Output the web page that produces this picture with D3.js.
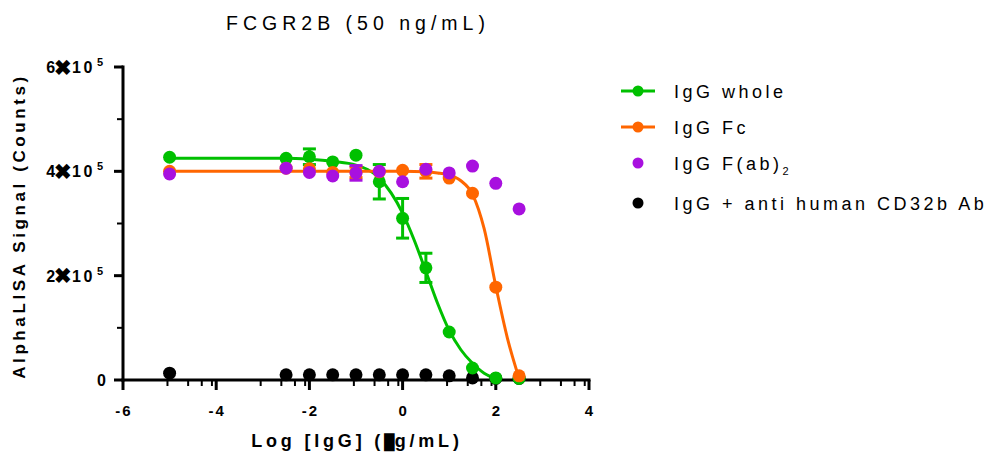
<!DOCTYPE html>
<html lang="en">
<head>
<meta charset="UTF-8">
<title>FCGR2B (50 ng/mL)</title>
<style>
  * { margin: 0; padding: 0; }
  html, body { overflow: hidden; background: #fff; }
  text { font-family: "Liberation Sans", Arial, sans-serif; }
</style>
</head>
<body>
<div id="chart"></div>
<script src="https://cdn.jsdelivr.net/npm/d3@7"></script>
<script>
// log concentration (µg/mL)
const logConc = [-5, -2.5, -2, -1.5, -1, -0.5, 0, 0.5, 1, 1.5, 2, 2.5]

// signal values in units of 1e5 counts
const wholeVals = [4.27, 4.25, 4.28, 4.18, 4.31, 3.80, 3.10, 2.15, 0.92, 0.23, 0.04, 0.03]
const wholeErr  = [0, 0, 0.15, 0, 0, 0.33, 0.38, 0.28, 0, 0, 0, 0]
const fcVals    = [4.00, 4.06, 4.05, 3.98, 3.98, 3.99, 4.02, 4.00, 3.87, 3.58, 1.78, 0.08]
const fcErr     = [0, 0, 0, 0, 0.1, 0, 0, 0.13, 0, 0, 0, 0]
const fabVals   = [3.95, 4.06, 3.98, 3.91, 3.97, 4.00, 3.80, 4.04, 3.97, 4.10, 3.77, 3.28]
const fabErr    = [0, 0, 0, 0, 0.14, 0, 0, 0, 0, 0, 0, 0]
const abVals    = [0.13, 0.10, 0.10, 0.10, 0.10, 0.10, 0.10, 0.10, 0.08, 0.04, 0.03, 0.03]

// fitted curves
const wholeFitX = [-5, -2.5, -2, -1.5, -1, -0.5, 0, 0.25, 0.5, 0.75, 1, 1.25, 1.5, 1.75, 2]
const wholeFitY = [4.25, 4.25, 4.23, 4.19, 4.12, 3.87, 3.20, 2.68, 2.08, 1.47, 0.95, 0.58, 0.32, 0.13, 0.03]
const fcFitX = [-5, -2.5, -1, 0, 0.5, 0.75, 1, 1.25, 1.5, 1.75, 2, 2.25, 2.5]
const fcFitY = [4.00, 4.00, 4.00, 4.00, 3.99, 3.97, 3.93, 3.82, 3.56, 2.90, 1.80, 0.80, 0.03]

const xTicks = [-6, -4, -2, 0, 2, 4]
const yTicks = [0, 2, 4, 6]
const yMinor = [1, 3, 5]

const legendLabels = ['IgG whole', 'IgG Fc', 'IgG F(ab)', 'IgG + anti human CD32b Ab']
const colors = ['#00C000', '#FF6600', '#A810DF', '#000000']

function drawChart() {
  const width = 992
  const height = 454
  const svg = d3.select('#chart')
    .append('svg')
    .attr('width', width)
    .attr('height', height)
    .style('background', '#fff')

  const x = d3.scaleLinear().domain([-6, 4]).range([123, 589])
  const y = d3.scaleLinear().domain([0, 6]).range([380, 67])

  // title
  svg.append('text')
    .attr('x', 358).attr('y', 30)
    .attr('text-anchor', 'middle')
    .attr('font-size', 19.5)
    .attr('letter-spacing', 5)
    .text('FCGR2B (50 ng/mL)')

  // x axis
  const minorX = []
  for (let s = -6; s < 4; s += 2) {
    [3, 5, 7, 9].forEach(k => minorX.push(s + 2 * Math.log10(k)))
  }
  const gx = svg.append('g')
  gx.append('line')
    .attr('x1', x(-6) - 1.5).attr('x2', x(4) + 1.5)
    .attr('y1', 380).attr('y2', 380)
    .attr('stroke', '#000').attr('stroke-width', 3)
  gx.selectAll('line.maj').data(xTicks).join('line')
    .attr('class', 'maj')
    .attr('x1', d => x(d)).attr('x2', d => x(d))
    .attr('y1', 380).attr('y2', 390)
    .attr('stroke', '#000').attr('stroke-width', 3)
  gx.selectAll('line.min').data(minorX).join('line')
    .attr('class', 'min')
    .attr('x1', d => x(d)).attr('x2', d => x(d))
    .attr('y1', 380).attr('y2', 386)
    .attr('stroke', '#000').attr('stroke-width', 2)
  gx.selectAll('text').data(xTicks).join('text')
    .attr('x', d => x(d) + 1).attr('y', 416)
    .attr('text-anchor', 'middle')
    .attr('font-size', 15).attr('font-weight', 'bold')
    .attr('letter-spacing', 2)
    .text(d => d)

  const xt = svg.append('text')
    .attr('x', 357).attr('y', 447)
    .attr('text-anchor', 'middle')
    .attr('font-size', 18).attr('font-weight', 'bold')
    .attr('letter-spacing', 3.8)
  xt.append('tspan').text('Log [IgG] (')
  xt.append('tspan').attr('font-size', 15).attr('letter-spacing', 0).text('█')
  xt.append('tspan').text('g/mL)')

  // y axis
  const gy = svg.append('g')
  gy.append('line')
    .attr('x1', 123).attr('x2', 123)
    .attr('y1', y(6) - 1.5).attr('y2', 381.5)
    .attr('stroke', '#000').attr('stroke-width', 3)
  gy.selectAll('line.maj').data(yTicks).join('line')
    .attr('class', 'maj')
    .attr('x1', 114).attr('x2', 123)
    .attr('y1', d => y(d)).attr('y2', d => y(d))
    .attr('stroke', '#000').attr('stroke-width', 3)
  gy.selectAll('line.min').data(yMinor).join('line')
    .attr('class', 'min')
    .attr('x1', 117).attr('x2', 123)
    .attr('y1', d => y(d)).attr('y2', d => y(d))
    .attr('stroke', '#000').attr('stroke-width', 2)
  const yl = gy.selectAll('text').data(yTicks).join('text')
    .attr('x', 103).attr('y', d => y(d) + 6)
    .attr('text-anchor', 'end')
    .attr('font-size', 16).attr('font-weight', 'bold')
  yl.each(function (d) {
    const t = d3.select(this)
    if (d === 0) {
      t.attr('x', 106).text('0')
      return
    }
    t.append('tspan').text(d)
    t.append('tspan').attr('font-size', 21).attr('dx', -1).attr('dy', 1.5).text('✖')
    t.append('tspan').attr('dy', -1.5).attr('letter-spacing', 2.5).text('10')
    t.append('tspan').attr('dx', 2).attr('dy', -7).attr('font-size', 11).text('5')
  })

  svg.append('text')
    .attr('transform', 'translate(25,226) rotate(-90)')
    .attr('text-anchor', 'middle')
    .attr('font-size', 17).attr('font-weight', 'bold')
    .attr('letter-spacing', 3.6)
    .text('AlphaLISA Signal (Counts)')

  // fitted curves
  const line = d3.line().x(d => x(d[0])).y(d => y(d[1])).curve(d3.curveMonotoneX)
  svg.append('path')
    .datum(wholeFitX.map((v, i) => [v, wholeFitY[i]]))
    .attr('d', line).attr('fill', 'none')
    .attr('stroke', colors[0]).attr('stroke-width', 3)
  svg.append('path')
    .datum(fcFitX.map((v, i) => [v, fcFitY[i]]))
    .attr('d', line).attr('fill', 'none')
    .attr('stroke', colors[1]).attr('stroke-width', 3)

  // points, drawn bottom to top: black, green, orange, purple
  const series = [
    { vals: abVals, err: null, color: colors[3] },
    { vals: wholeVals, err: wholeErr, color: colors[0] },
    { vals: fcVals, err: fcErr, color: colors[1] },
    { vals: fabVals, err: fabErr, color: colors[2] }
  ]
  series.forEach(s => {
    const g = svg.append('g')
    const pts = logConc.map((c, i) => ({ c, v: s.vals[i], e: s.err ? s.err[i] : 0 }))
    const withErr = pts.filter(p => p.e > 0)
    g.selectAll('line.bar').data(withErr).join('line')
      .attr('class', 'bar')
      .attr('x1', p => x(p.c)).attr('x2', p => x(p.c))
      .attr('y1', p => y(p.v + p.e)).attr('y2', p => y(p.v - p.e))
      .attr('stroke', s.color).attr('stroke-width', 3)
    g.selectAll('line.capT').data(withErr).join('line')
      .attr('class', 'capT')
      .attr('x1', p => x(p.c) - 6.5).attr('x2', p => x(p.c) + 6.5)
      .attr('y1', p => y(p.v + p.e)).attr('y2', p => y(p.v + p.e))
      .attr('stroke', s.color).attr('stroke-width', 3)
    g.selectAll('line.capB').data(withErr).join('line')
      .attr('class', 'capB')
      .attr('x1', p => x(p.c) - 6.5).attr('x2', p => x(p.c) + 6.5)
      .attr('y1', p => y(p.v - p.e)).attr('y2', p => y(p.v - p.e))
      .attr('stroke', s.color).attr('stroke-width', 3)
    g.selectAll('circle').data(pts).join('circle')
      .attr('cx', p => x(p.c)).attr('cy', p => y(p.v))
      .attr('r', 6.5).attr('fill', s.color)
  })

  // legend
  const rows = [91, 127, 163, 203]
  const lg = svg.append('g')
  legendLabels.forEach((lab, i) => {
    if (i < 2) {
      lg.append('line')
        .attr('x1', 621).attr('x2', 655)
        .attr('y1', rows[i]).attr('y2', rows[i])
        .attr('stroke', colors[i]).attr('stroke-width', 3)
    }
    lg.append('circle')
      .attr('cx', 638).attr('cy', rows[i])
      .attr('r', 5.5).attr('fill', colors[i])
    const t = lg.append('text')
      .attr('x', 674).attr('y', rows[i] + 6.5)
      .attr('font-size', 18)
      .attr('letter-spacing', 3.5)
      .text(lab)
    if (i === 2) {
      t.append('tspan').attr('dy', 5).attr('font-size', 11).text('2')
    }
  })
}

drawChart()
</script>
</body>
</html>
